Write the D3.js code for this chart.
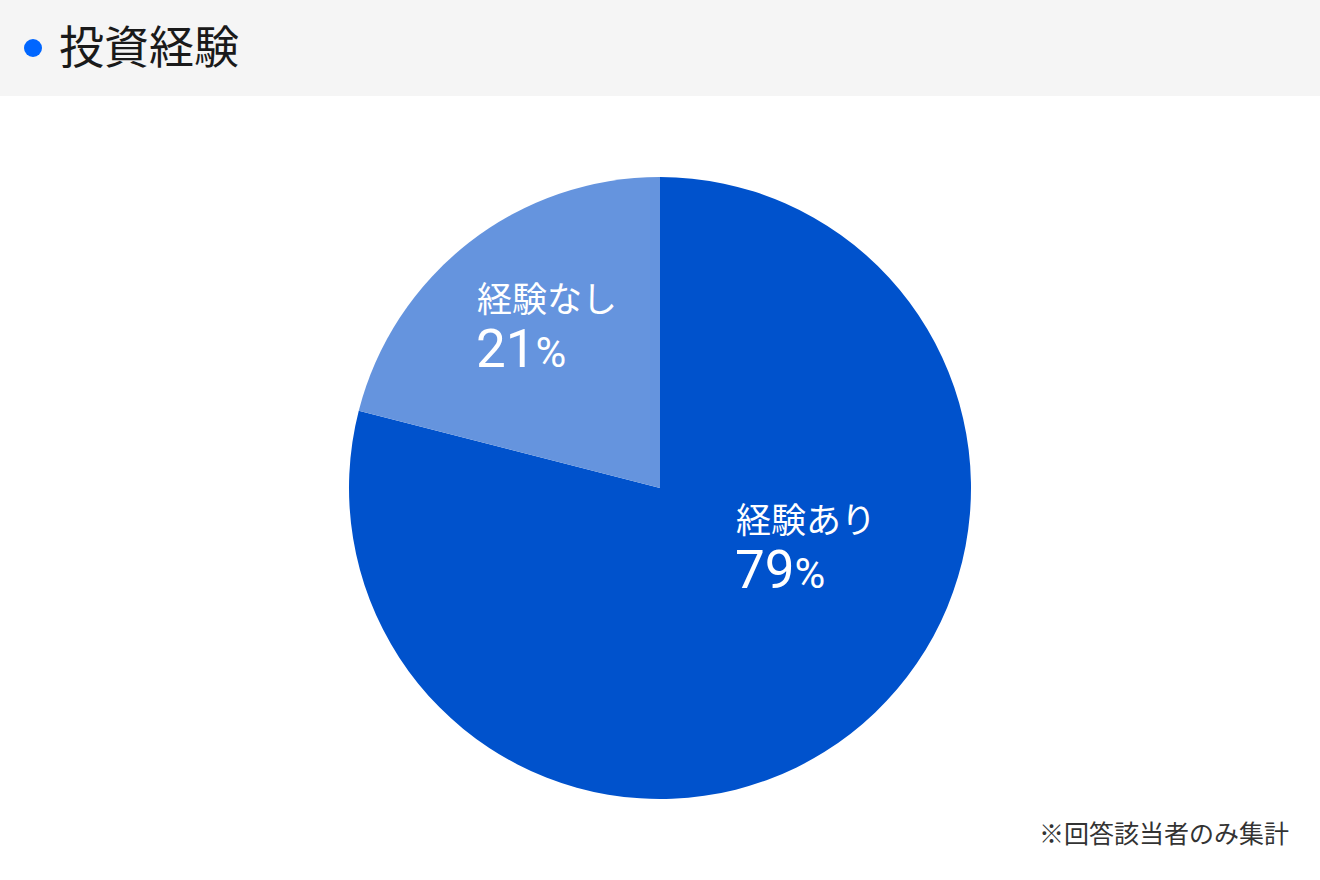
<!DOCTYPE html>
<html lang="ja">
<head>
<meta charset="utf-8">
<script src="https://cdn.jsdelivr.net/npm/d3@7"></script>
<style>
  html, body { margin: 0; padding: 0; background: #fff; }
  svg { display: block; font-family: "Noto Sans CJK JP", "Noto Sans", sans-serif; }
</style>
</head>
<body>
<svg></svg>
<script>
const width = 1320;
const height = 880;

// данные
const title = "投資経験";
const categories = ["経験あり", "経験なし"];
const shares = [79, 21];
const colors = ["#0052cc", "#6594de"];
const note = "※回答該当者のみ集計";

// положение подписей относительно центра круга
const labelOffsets = [[77, 45], [-182, -176]];

const svg = d3.select("svg")
  .attr("width", width)
  .attr("height", height);

// шапка
svg.append("rect")
  .attr("x", 0).attr("y", 0)
  .attr("width", width).attr("height", 96)
  .attr("fill", "#f5f5f5");

svg.append("circle")
  .attr("cx", 33).attr("cy", 48).attr("r", 9)
  .attr("fill", "#0066ff");

svg.append("text")
  .attr("x", 59).attr("y", 64)
  .attr("font-size", 45)
  .attr("fill", "#1a1a1a")
  .text(title);

// круговая диаграмма
const cx = 660, cy = 488, radius = 311;

const data = categories.map((c, i) => ({ name: c, value: shares[i], color: colors[i], off: labelOffsets[i] }));

const pie = d3.pie()
  .value(d => d.value)
  .sort(null);

const arc = d3.arc()
  .innerRadius(0)
  .outerRadius(radius);

const g = svg.append("g")
  .attr("transform", `translate(${cx}, ${cy})`);

g.selectAll("path")
  .data(pie(data))
  .enter()
  .append("path")
  .attr("d", arc)
  .attr("fill", d => d.data.color);

const labels = g.selectAll(".label")
  .data(pie(data))
  .enter()
  .append("g")
  .attr("class", "label")
  .attr("fill", "#fff")
  .attr("transform", d => `translate(${d.data.off[0]}, ${d.data.off[1]})`);

// название категории
labels.append("text")
  .attr("x", -1).attr("y", 0)
  .attr("font-size", 35)
  .text(d => d.data.name);

// процент
const pct = labels.append("text")
  .attr("x", -2).attr("y", 55)
  .attr("font-family", "Roboto, 'Noto Sans', sans-serif")
  .attr("font-size", 53)
  .text(d => d.data.value);

pct.append("tspan")
  .attr("font-size", 42)
  .text("%");

// примечание
svg.append("text")
  .attr("x", 1289).attr("y", 843)
  .attr("text-anchor", "end")
  .attr("font-size", 25)
  .attr("fill", "#333")
  .text(note);
</script>
</body>
</html>
